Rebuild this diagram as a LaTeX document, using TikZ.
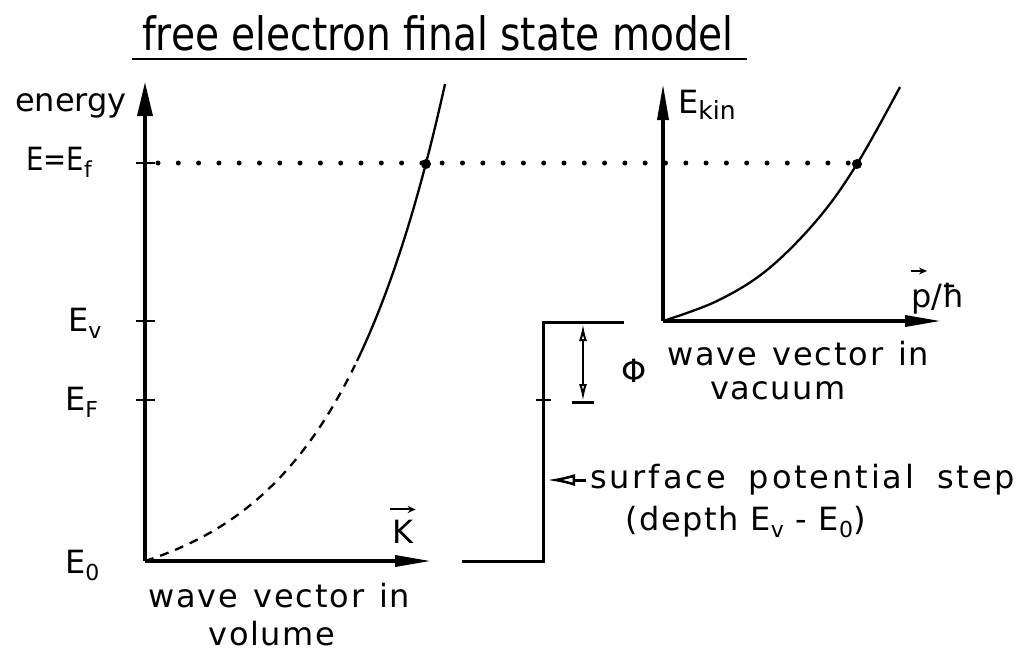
\documentclass[tikz,border=0pt]{standalone}
\usepackage{fontspec}
\usepackage{graphicx}
\setmainfont{DejaVu Sans}
\usetikzlibrary{arrows.meta}
\newcommand\lsub[1]{\raisebox{-0.45ex}{\fontsize{22}{22}\selectfont #1}}
\newcommand\spread[3]{\makebox[#1][s]{\addfontfeatures{LetterSpace=#2}#3}}
\begin{document}
\begin{tikzpicture}[x=1pt,y=-1pt,
  lab/.style={inner sep=0pt,font=\fontsize{32}{32}\selectfont},
  axisv/.style={line width=3.5pt,-{Stealth[length=34pt,width=15pt,inset=0pt]}},
  axish/.style={line width=3.5pt,-{Stealth[length=36pt,width=11pt,inset=0pt]}},
  tickmark/.style={line width=2.5pt},
  curve/.style={line width=2.3pt},
  stepline/.style={line width=3pt},
  dotline/.style={line width=5pt,line cap=round,dash pattern=on 0pt off 20.3pt},
  vecarrow/.style={line width=2pt,-{Stealth[length=8pt,width=7pt]}},
  bigdot/.style={circle,fill,inner sep=0pt,minimum size=10pt}
]
\useasboundingbox (0,0) rectangle (1021,656);

% title
\node[inner sep=0pt,anchor=base] (title) at (438,50)
  {\fontsize{46}{46}\selectfont\scalebox{0.85}[1]{free electron final state model}};
\coordinate (ulA) at (132,59);
\coordinate (ulB) at (747,59);
\draw[line width=2.8pt] (ulA) -- (ulB);

% left axes
\coordinate (O1) at (145,561);
\coordinate (Y1) at (145,82);
\coordinate (X1) at (431,561);
\draw[axisv] (O1) -- (Y1);
\draw[axish] (O1) -- (X1);

% ticks
\foreach \n/\y in {tf/163,tv/321,tF/400}{
  \coordinate (\n a) at (136,\y);
  \coordinate (\n b) at (155,\y);
  \draw[tickmark] (\n a) -- (\n b);
}

% labels left
\node[lab,anchor=base east] (energy) at (127,111) {energy};
\node[lab,anchor=base west] (Ef) at (26,170) {\scalebox{0.86}[1]{E=E}\lsub{f}};
\node[lab,anchor=base west] (Ev) at (68,331) {E\lsub{v}};
\node[lab,anchor=base west] (EF) at (65,410) {E\lsub{F}};
\node[lab,anchor=base west] (E0) at (65,573) {E\lsub{0}};
\node[lab,anchor=base] (K) at (403,543) {K};
\draw[vecarrow] ([xshift=-2pt,yshift=10pt]K.north west) -- ([xshift=2pt,yshift=10pt]K.north east);
\node[lab,anchor=base west] (wv1) at (148,607) {\spread{262pt}{6}{wave vector in}};
\node[lab,anchor=base] (wv2) at (272,645) {\addfontfeatures{LetterSpace=5}volume};

% volume curve: E = 36.6 (exp(0.0088 k) - 1)
\draw[curve,dash pattern=on 9pt off 7pt] plot[domain=0:210,samples=60,smooth]
  ({145+\x},{561-36.6*(exp(0.0088*\x)-1)});
\draw[curve] plot[domain=212:300,samples=40,smooth]
  ({145+\x},{561-36.6*(exp(0.0088*\x)-1)});

% dotted line
\coordinate (dA) at (158,163);
\coordinate (dB) at (850,163);
\draw[dotline] (dA) -- (dB);
\node[bigdot] (p1) at (426,164) {};
\node[bigdot] (p2) at (857,164) {};

% surface step
\coordinate (s1) at (462,561);
\coordinate (s2) at (543,561);
\coordinate (s3) at (543,322);
\coordinate (s4) at (624,322);
\draw[stepline] (s1) -- (s2) -- (s3) -- (s4);
\coordinate (st1) at (536,400);
\coordinate (st2) at (551,400);
\draw[tickmark] (st1) -- (st2);

% phi dimension
\coordinate (ph1) at (583,324);
\coordinate (ph2) at (583,401);
\coordinate (pb1) at (572,402);
\coordinate (pb2) at (594,402);
\draw[line width=2pt,{Latex[open,length=17pt,width=8pt]}-{Latex[open,length=17pt,width=8pt]}] (ph1) -- (ph2);
\draw[line width=3pt] (pb1) -- (pb2);
\node[lab,anchor=center] (phi) at (634,371) {Φ};

% right axes
\coordinate (O2) at (663,321);
\coordinate (Y2) at (663,84);
\coordinate (X2) at (941,321);
\draw[axish] (O2) -- (Y2);
\draw[axish] (O2) -- (X2);
\node[lab,anchor=base west] (Ekin) at (678,113) {E\raisebox{-0.35ex}{\fontsize{25}{25}\selectfont kin}};
\node[lab,anchor=base west] (ph) at (911,307) {p/ħ};
\coordinate (pva) at (911,271);
\coordinate (pvb) at (927,271);
\draw[vecarrow] (pva) -- (pvb);

\draw[curve] plot[smooth,tension=0.6] coordinates
  {(663,321) (717,301) (767,270) (817,220) (857,164) (900,87)};

\node[lab,anchor=base west] (wv3) at (667,365) {\spread{262pt}{6}{wave vector in}};
\node[lab,anchor=base] (wv4) at (778,399) {\addfontfeatures{LetterSpace=5}vacuum};

% surface potential step label
\coordinate (sa1) at (586,480);
\coordinate (sa2) at (547,480);
\draw[line width=3pt,-{Latex[open,length=28pt,width=12pt,line width=2.5pt]}] (sa1) -- (sa2);
\node[lab,anchor=base west] (sps) at (590,488) {\spread{425pt}{9}{surface potential step}};
\node[lab,anchor=base west] (dep) at (625,530) {\addfontfeatures{LetterSpace=5}(depth E\lsub{v} - E\lsub{0})};
\end{tikzpicture}
\end{document}
